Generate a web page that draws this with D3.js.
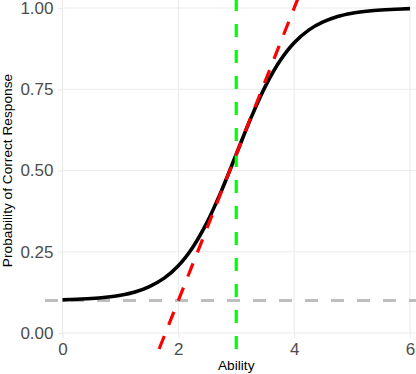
<!DOCTYPE html>
<html>
<head>
<meta charset="utf-8">
<script src="https://cdn.jsdelivr.net/npm/d3@7"></script>
<style>
  body { margin: 0; background: #fff; }
  text { font-family: "Liberation Sans", Arial, sans-serif; }
</style>
</head>
<body>
<div id="container"></div>
<script>
// item characteristic curve
let ability = [0, 0.25, 0.5, 0.75, 1, 1.25, 1.5, 1.75, 2, 2.25, 2.5, 2.75, 3,
               3.25, 3.5, 3.75, 4, 4.25, 4.5, 4.75, 5, 5.25, 5.5, 5.75, 6]
let probability = [0.102, 0.104, 0.106, 0.110, 0.116, 0.126, 0.143, 0.168, 0.207,
                   0.264, 0.342, 0.440, 0.550, 0.660, 0.758, 0.836, 0.893, 0.932,
                   0.957, 0.974, 0.984, 0.990, 0.994, 0.996, 0.998]

let xTicks = [0, 2, 4, 6]
let yTicks = [0, 0.25, 0.5, 0.75, 1]

let guessing = 0.1          // grey horizontal line
let difficulty = 3          // green vertical line
let tangent = {slope: 0.45, intercept: -0.8}  // red dashed line

let screenWidth = 416
let screenHeight = 374
let panel = {left: 45, right: 428, top: -8, bottom: 349}

function main() {
  let svg = d3.select('#container').append('svg')
    .attr('width', screenWidth)
    .attr('height', screenHeight)

  svg.append('rect')
    .attr('width', screenWidth).attr('height', screenHeight)
    .attr('fill', '#fff')

  const xScale = d3.scaleLinear().domain([0, 6]).range([62.5, 410])
  const yScale = d3.scaleLinear().domain([0, 1]).range([333, 8])

  // grid
  svg.append('g').selectAll('line')
    .data(yTicks).enter().append('line')
    .attr('x1', xScale(0)).attr('x2', panel.right)
    .attr('y1', d => yScale(d)).attr('y2', d => yScale(d))
    .attr('stroke', '#EBEBEB').attr('stroke-width', 1.1)

  svg.append('g').selectAll('line')
    .data(xTicks).enter().append('line')
    .attr('x1', d => xScale(d)).attr('x2', d => xScale(d))
    .attr('y1', panel.top).attr('y2', yScale(0))
    .attr('stroke', '#EBEBEB').attr('stroke-width', 1.1)

  // axes
  const yAxis = d3.axisLeft(yScale)
    .tickValues(yTicks)
    .tickFormat(d3.format('.2f'))
    .tickSize(4.5)
    .tickPadding(4.5)

  const xAxis = d3.axisBottom(xScale)
    .tickValues(xTicks)
    .tickFormat(d3.format('d'))
    .tickSize(5)
    .tickPadding(5)

  let gy = svg.append('g')
    .attr('transform', `translate(${xScale(0)},0)`)
    .call(yAxis)
  let gx = svg.append('g')
    .attr('transform', `translate(0,${yScale(0)})`)
    .call(xAxis)

  for (let g of [gx, gy]) {
    g.select('.domain').remove()
    g.selectAll('.tick line').attr('stroke', '#EBEBEB').attr('stroke-width', 1.1)
    g.selectAll('.tick text')
      .attr('fill', '#4D4D4D')
      .style('font-size', '17px')
      .style('font-family', '"Liberation Sans", Arial, sans-serif')
  }

  // titles
  svg.append('text')
    .attr('x', xScale(3)).attr('y', 370)
    .attr('text-anchor', 'middle')
    .style('font-size', '13.7px')
    .text('Ability')

  svg.append('text')
    .attr('transform', `translate(11.5,${yScale(0.5)}) rotate(-90)`)
    .attr('text-anchor', 'middle')
    .style('font-size', '13.7px')
    .text('Probability of Correct Response')

  // guessing line
  svg.append('line')
    .attr('x1', panel.left).attr('x2', panel.right)
    .attr('y1', yScale(guessing)).attr('y2', yScale(guessing))
    .attr('stroke', '#BEBEBE').attr('stroke-width', 3.2)
    .attr('stroke-dasharray', '13,13')

  // curve
  let points = ability.map((a, i) => [a, probability[i]])
  let line = d3.line()
    .x(d => xScale(d[0]))
    .y(d => yScale(d[1]))
    .curve(d3.curveCatmullRom)

  svg.append('path')
    .attr('d', line(points))
    .attr('fill', 'none')
    .attr('stroke', '#000')
    .attr('stroke-width', 3.6)

  // difficulty line
  svg.append('line')
    .attr('x1', xScale(difficulty)).attr('x2', xScale(difficulty))
    .attr('y1', panel.bottom).attr('y2', panel.top)
    .attr('stroke', '#00FF00').attr('stroke-width', 3.2)
    .attr('stroke-dasharray', '13,13')

  // tangent line, from bottom of panel to top
  let yLow = yScale.invert(panel.bottom)
  let yHigh = yScale.invert(panel.top)
  let xLow = (yLow - tangent.intercept) / tangent.slope
  let xHigh = (yHigh - tangent.intercept) / tangent.slope
  svg.append('line')
    .attr('x1', xScale(xLow)).attr('y1', yScale(yLow))
    .attr('x2', xScale(xHigh)).attr('y2', yScale(yHigh))
    .attr('stroke', '#FF0000').attr('stroke-width', 3.2)
    .attr('stroke-dasharray', '14,12')
}

main()
</script>
</body>
</html>
